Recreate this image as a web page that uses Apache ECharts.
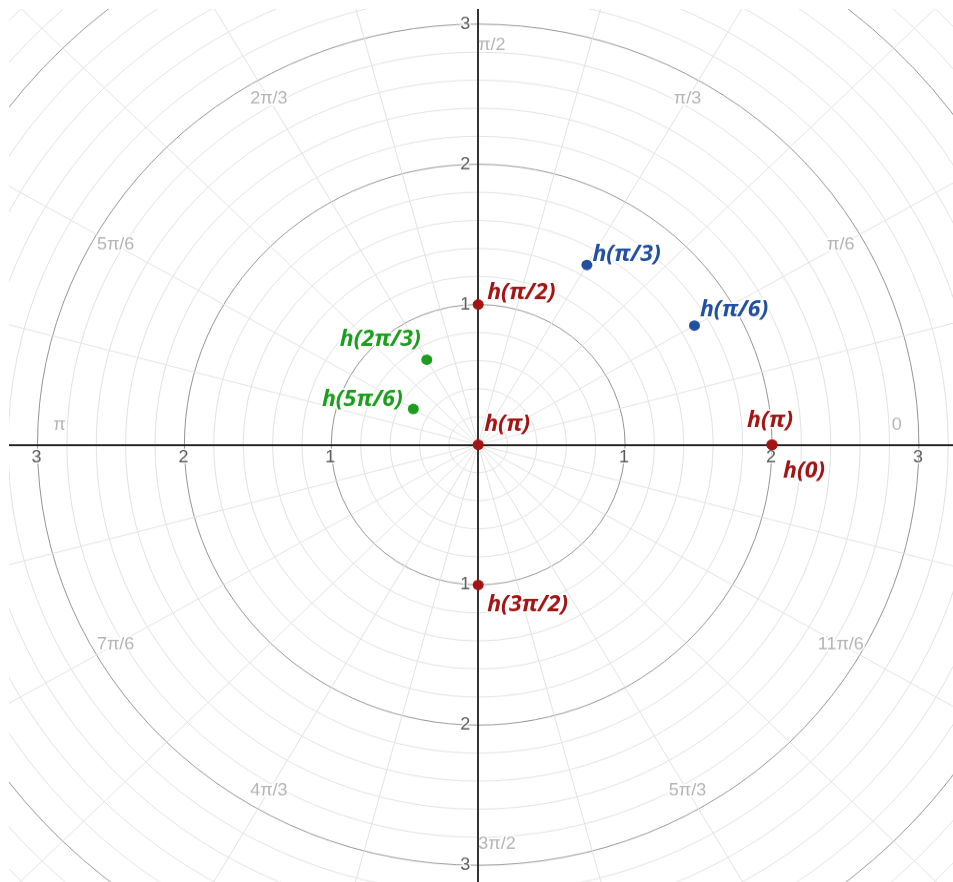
<!DOCTYPE html>
<html>
<head>
<meta charset="utf-8">
<script src="https://cdn.jsdelivr.net/npm/echarts@6/dist/echarts.min.js"></script>
<style>
html,body{margin:0;padding:0;background:#fff;width:953px;height:882px;overflow:hidden}
#frame{position:absolute;left:9px;top:9px;width:944px;height:873px;overflow:hidden;background:#fff}
#chart{position:absolute;left:0;top:0;width:944px;height:915px;transform:scaleY(0.95439);transform-origin:0 0}
</style>
</head>
<body>
<div id="frame"><div id="chart"></div></div>
<script>
// ---------------- data (polar: radius, angle in degrees) ----------------
const redLabels   = ['h(π/2)', 'h(π)', 'h(π)', 'h(0)', 'h(3π/2)'];
const redR        = [1, 0, 2, 2, 1];
const redTheta    = [90, 0, 0, 0, 270];

const blueLabels  = ['h(π/3)', 'h(π/6)'];
const blueR       = [1.48, 1.70];
const blueTheta   = [60, 30];

const greenLabels = ['h(2π/3)', 'h(5π/6)'];
const greenR      = [0.70, 0.51];
const greenTheta  = [120, 150];

const axisTickValues = [-3, -2, -1, 1, 2, 3];
const angleTickDeg   = [0, 30, 60, 90, 120, 150, 180, 210, 240, 270, 300, 330];
const angleTickText  = ['0', 'π/6', 'π/3', 'π/2', '2π/3', '5π/6', 'π', '7π/6', '4π/3', '3π/2', '5π/3', '11π/6'];

// ---------------- layout ----------------
const SY = 0.95439;          // vertical squash applied by CSS
const K = 146.9;             // px per unit
const W = 944, H = 915;
const CX = 469.2, CY = 456.5;
const ANGLE_LABEL_R = 2.85;
const XMIN = -CX / K, XMAX = (W - CX) / K;
const YMAX = CY / K, YMIN = -(H - CY) / K;

const RED = '#a31414', BLUE = '#21509e', GREEN = '#1b9e1b';
const ptFont = {fontFamily: '"Open Sans", sans-serif', fontWeight: 'bold', fontStyle: 'italic', fontSize: 23};
const numFont = {color: '#333', fontSize: 18, fontFamily: '"Liberation Sans", Arial, sans-serif',
                 textBorderColor: '#fff', textBorderWidth: 3};

// label placement (align + offset from dot centre)
const placement = {
  red:   [['left', 9, -12.6], ['left', 6, -21], ['center', -2, -25.5], ['left', 11, 28.3], ['left', 9, 21]],
  blue:  [['left', 5.5, -10.5], ['left', 5.5, -16.2]],
  green: [['right', -6, -21], ['right', -10.5, -9.4]]
};

function pointSeries(name, labels, rs, thetas, color, place) {
  return {
    name: name, type: 'scatter', coordinateSystem: 'polar', polarIndex: 0,
    symbol: 'circle', symbolSize: 11, z: 10, silent: true,
    itemStyle: {color: color, opacity: 1},
    data: rs.map((r, i) => ({
      value: [r, thetas[i]],
      name: labels[i],
      label: {
        show: true, position: 'inside', formatter: labels[i],
        align: place[i][0], verticalAlign: 'middle',
        offset: [place[i][1], place[i][2]],
        color: color, ...ptFont,
        textBorderColor: '#fff', textBorderWidth: 3
      }
    }))
  };
}

const chart = echarts.init(document.getElementById('chart'), null, {renderer: 'canvas'});

const option = {
  animation: false,
  backgroundColor: '#fff',
  polar: {center: [CX, CY], radius: 5 * K},
  radiusAxis: {
    type: 'value', min: 0, max: 5, interval: 1,
    axisLine: {show: false}, axisTick: {show: false}, axisLabel: {show: false},
    splitLine: {show: true, lineStyle: {color: '#959595', width: 1}},
    minorTick: {show: false, splitNumber: 5},
    minorSplitLine: {show: true, lineStyle: {color: '#e3e3e3', width: 1}}
  },
  angleAxis: {
    type: 'value', min: 0, max: 360, interval: 15, startAngle: 0, clockwise: false,
    axisLine: {show: false}, axisTick: {show: false}, axisLabel: {show: false},
    splitLine: {show: true, lineStyle: {color: '#e3e3e3', width: 1}}
  },
  grid: {left: 0, top: 0, width: W, height: H, containLabel: false, outerBoundsMode: 'none'},
  xAxis: {
    type: 'value', min: XMIN, max: XMAX, z: 6,
    axisLine: {onZero: true, lineStyle: {color: '#1e1e1e', width: 1.8}},
    axisTick: {show: false}, splitLine: {show: false}, axisLabel: {show: false}
  },
  yAxis: {
    type: 'value', min: YMIN, max: YMAX, z: 6,
    axisLine: {onZero: true, lineStyle: {color: '#1e1e1e', width: 1.8}},
    axisTick: {show: false}, splitLine: {show: false}, axisLabel: {show: false}
  },
  series: [
    {
      name: 'angleTicks', type: 'scatter', coordinateSystem: 'polar', polarIndex: 0,
      symbolSize: 0, z: 3, silent: true,
      data: angleTickDeg.map((d, i) => {
        const lab = {
          show: true, position: 'inside', formatter: angleTickText[i],
          color: '#a3a3a3', fontSize: 18, fontFamily: '"Liberation Sans", Arial, sans-serif',
          textBorderColor: '#fff', textBorderWidth: 4, align: 'center', verticalAlign: 'middle'
        };
        if (d === 0 || d === 180) { lab.offset = [0, -20]; }
        if (d === 90 || d === 270) { lab.align = 'left'; lab.offset = [0, 0]; }
        return {value: [ANGLE_LABEL_R, d], label: lab};
      })
    },
    {
      name: 'xTickLabels', type: 'scatter', coordinateSystem: 'cartesian2d',
      symbolSize: 0, z: 7, silent: true,
      data: axisTickValues.map(v => [v, 0]),
      label: {show: true, position: 'inside', formatter: p => String(Math.abs(p.value[0])),
              align: 'center', verticalAlign: 'top', offset: [-1, 5], ...numFont}
    },
    {
      name: 'yTickLabels', type: 'scatter', coordinateSystem: 'cartesian2d',
      symbolSize: 0, z: 7, silent: true,
      data: axisTickValues.map(v => [0, v]),
      label: {show: true, position: 'inside', formatter: p => String(Math.abs(p.value[1])),
              align: 'right', verticalAlign: 'middle', offset: [-8, 0], ...numFont}
    },
    pointSeries('red', redLabels, redR, redTheta, RED, placement.red),
    pointSeries('blue', blueLabels, blueR, blueTheta, BLUE, placement.blue),
    pointSeries('green', greenLabels, greenR, greenTheta, GREEN, placement.green)
  ]
};
chart.setOption(option);
</script>
</body>
</html>
